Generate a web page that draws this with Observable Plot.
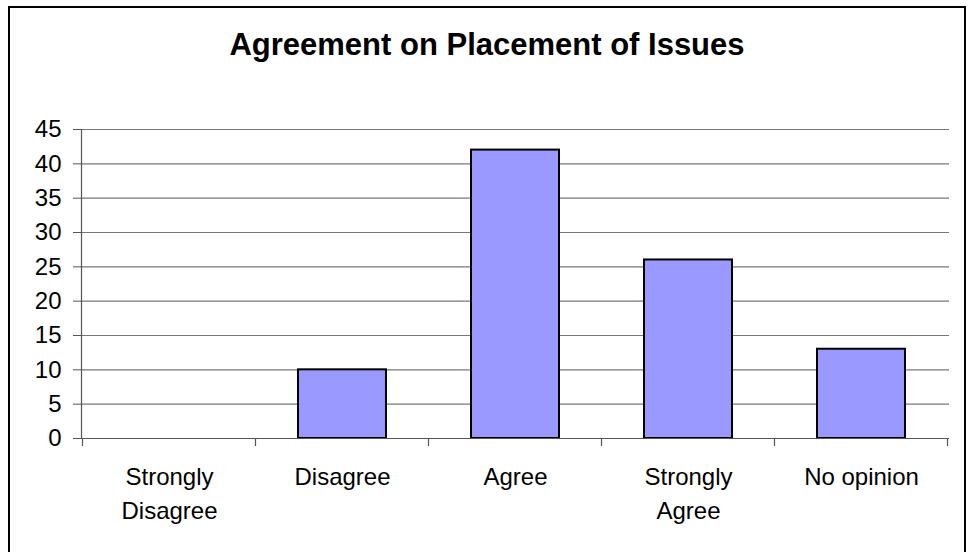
<!DOCTYPE html>
<html>
<head>
<meta charset="utf-8">
<script src="https://cdn.jsdelivr.net/npm/d3@7"></script>
<script src="https://cdn.jsdelivr.net/npm/@observablehq/plot@0.6"></script>
<style>
  html, body { margin: 0; padding: 0; background: #fff; }
  #wrap { position: relative; width: 970px; height: 552px; overflow: hidden; font-family: "Liberation Sans", Arial, sans-serif; }
  #frame { position: absolute; left: 8px; top: 6px; width: 958px; height: 600px; border: 2.5px solid #000; box-sizing: border-box; }
  #title { position: absolute; left: 9px; width: 956px; top: 25px; text-align: center; font-weight: bold; font-size: 31px; line-height: 40px; color: #000; }
  #chart { position: absolute; left: 0; top: 0; }
</style>
</head>
<body>
<div id="wrap">
  <div id="chart"></div>
  <div id="frame"></div>
  <div id="title">Agreement on Placement of Issues</div>
</div>
<script>
const categories = ["Strongly\nDisagree", "Disagree", "Agree", "Strongly\nAgree", "No opinion"];
const counts = [0, 10, 42, 26, 13];
const yTicks = [0, 5, 10, 15, 20, 25, 30, 35, 40, 45];

const data = categories.map((c, i) => ({category: c, value: counts[i]}));

const plot = Plot.plot({
  width: 970,
  height: 552,
  marginLeft: 81,
  marginRight: 21,
  marginTop: 129,
  marginBottom: 114,
  style: {fontFamily: "Liberation Sans, Arial, sans-serif", fontSize: "24px", color: "#000", background: "transparent"},
  x: {domain: categories, paddingInner: 0.49, paddingOuter: 0.245, align: 0.5},
  y: {domain: [0, 45]},
  marks: [
    Plot.gridY(yTicks, {stroke: "#777", strokeOpacity: 1, strokeWidth: 1.2}),
    Plot.barY(data, {x: "category", y: "value", fill: "#9999FF", stroke: "#000", strokeWidth: 2}),
    Plot.axisY({ticks: yTicks, tickSize: 8, tickPadding: 12, stroke: "#555", fill: "#000", fontSize: 24, label: null}),
    Plot.frame({anchor: "left", stroke: "#555", strokeWidth: 1.2}),
    Plot.ruleY([0], {stroke: "#555", strokeWidth: 1.2}),
    Plot.axisX({tickSize: 0, tickPadding: 22, fontSize: 24, lineHeight: 1.42, fill: "#000", label: null})
  ]
});
document.getElementById("chart").appendChild(plot);

// category boundary ticks below the x axis, from the band scale
const xs = plot.scale("x");
const ys = plot.scale("y");
const step = xs.step;
const gap = (step - xs.bandwidth) / 2;
const y0 = ys.apply(0);
const svg = d3.select(plot);
const bounds = categories.map((c) => xs.apply(c) - gap);
bounds.push(xs.apply(categories[categories.length - 1]) + xs.bandwidth + gap);
svg.append("g").selectAll("line").data(bounds).join("line")
  .attr("x1", d => d).attr("x2", d => d)
  .attr("y1", y0).attr("y2", y0 + 8)
  .attr("stroke", "#555").attr("stroke-width", 1.2);
</script>
</body>
</html>
